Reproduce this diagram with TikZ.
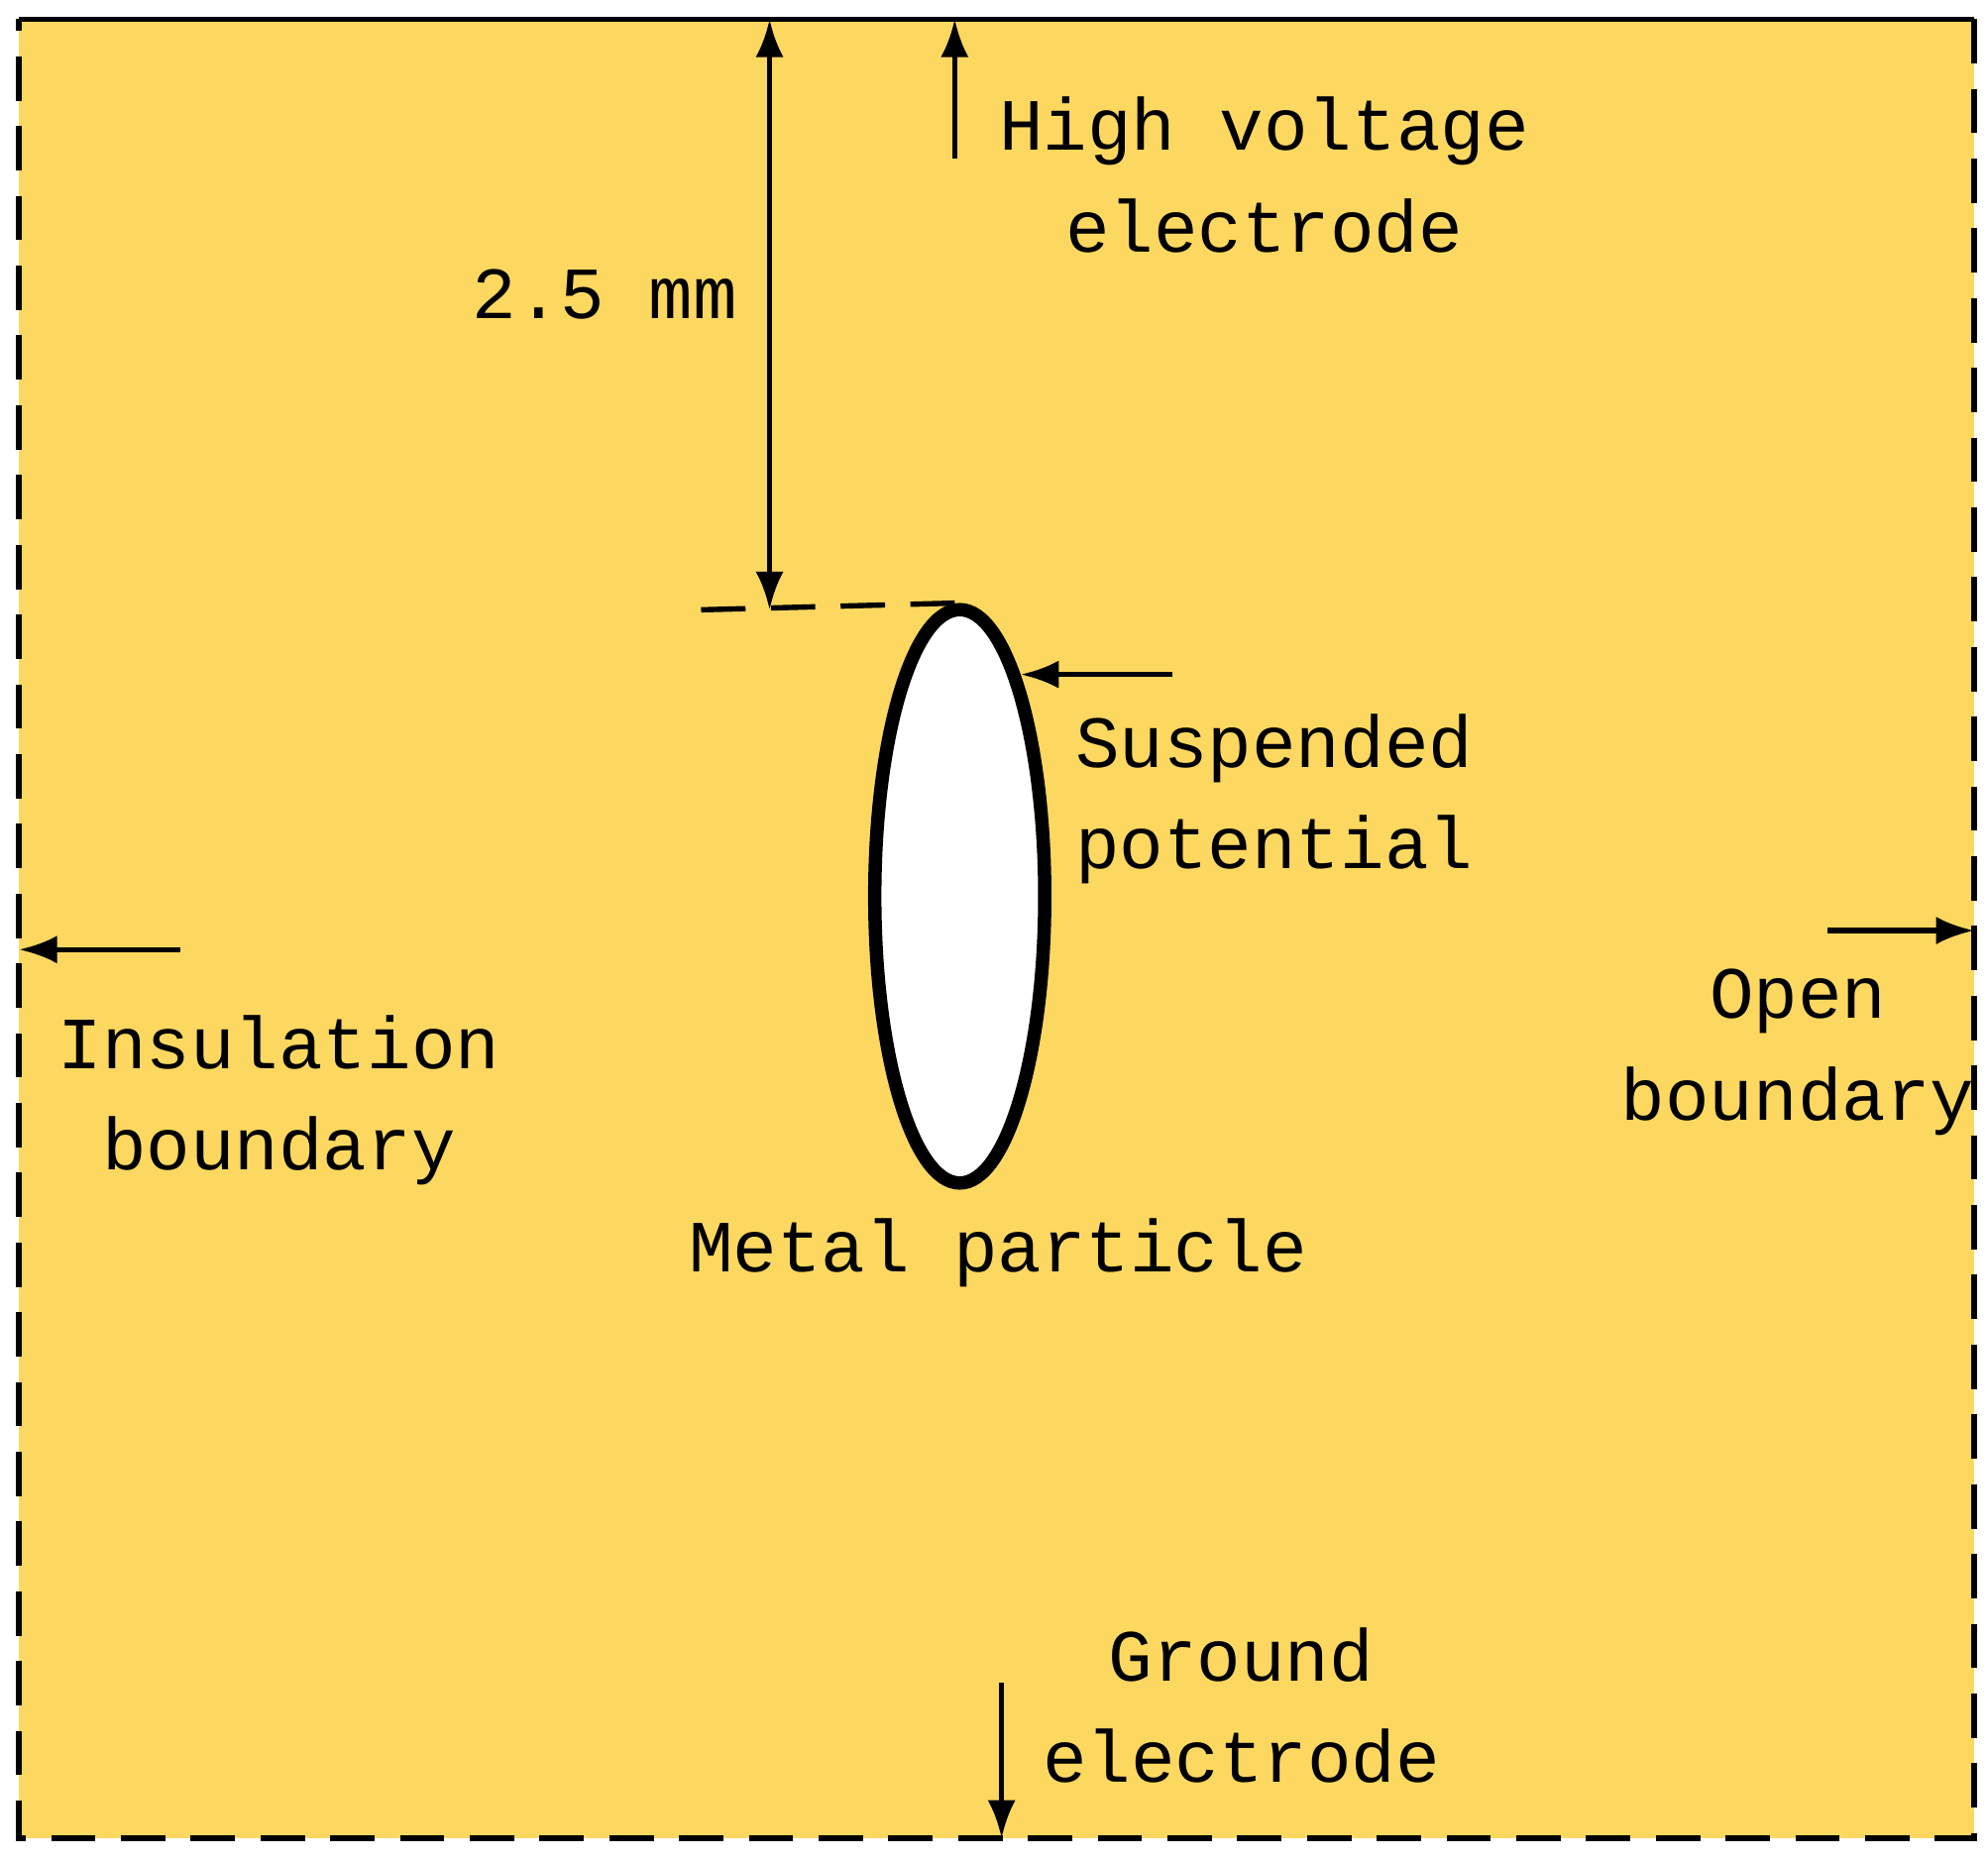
\documentclass[tikz,border=0pt]{standalone}
\usepackage{fontspec}
\setmainfont{Liberation Mono}
\usetikzlibrary{arrows.meta,shapes.geometric}
\begin{document}
\begin{tikzpicture}[x=0.01cm,y=-0.01cm,
  lbl/.style={align=center,font=\fontsize{16.5}{22.7}\selectfont,inner sep=0pt},
  arr/.style={-{Latex[length=0.3cm,width=0.22cm]},line width=1.2pt},
  bd/.style={line width=1.2pt}]
\useasboundingbox (0,0) rectangle (1568,1468);
\fill[fill={rgb,255:red,253;green,216;blue,96}] (15,15) rectangle (1557,1450);
\coordinate (tl) at (15,15); \coordinate (tr) at (1557,15);
\coordinate (bl) at (15,1450); \coordinate (br) at (1557,1450);
\draw[bd] (tl) -- (tr);
\draw[bd,dash pattern=on 0.35cm off 0.2cm] (tr) -- (br) -- (bl) -- (tl);
\node[draw,ellipse,fill=white,line width=3pt,minimum width=1.34cm,minimum height=4.52cm,inner sep=0pt] (p) at (757,707) {};
\coordinate (dl) at (553,481);
\draw[bd,dash pattern=on 0.35cm off 0.2cm] (dl) -- (p.north);
\coordinate (d1) at (607,15); \coordinate (d2) at (607,481);
\draw[line width=1.2pt,{Latex[length=0.3cm,width=0.22cm]}-{Latex[length=0.3cm,width=0.22cm]}] (d1) -- (d2);
\node[lbl] (dim) at (477,232) {2.5 mm};
\coordinate (h1) at (753,125); \coordinate (h2) at (753,15);
\draw[arr] (h1) -- (h2);
\node[lbl] (hv) at (997,138) {High voltage\\electrode};
\coordinate (s1) at (925,532); \coordinate (s2) at (805,532);
\draw[arr] (s1) -- (s2);
\node[lbl] (sp) at (1005,630) {Suspended\\potential};
\coordinate (i1) at (142,749); \coordinate (i2) at (15,749);
\draw[arr] (i1) -- (i2);
\node[lbl] (ib) at (220,868) {Insulation\\boundary};
\coordinate (o1) at (1441,734); \coordinate (o2) at (1557,734);
\draw[arr] (o1) -- (o2);
\node[lbl] (ob) at (1418,830) {Open\\boundary};
\coordinate (g1) at (790,1327); \coordinate (g2) at (790,1450);
\draw[arr] (g1) -- (g2);
\node[lbl] (ge) at (979,1345) {Ground\\electrode};
\node[lbl] (mp) at (787,988) {Metal particle};
\end{tikzpicture}
\end{document}
